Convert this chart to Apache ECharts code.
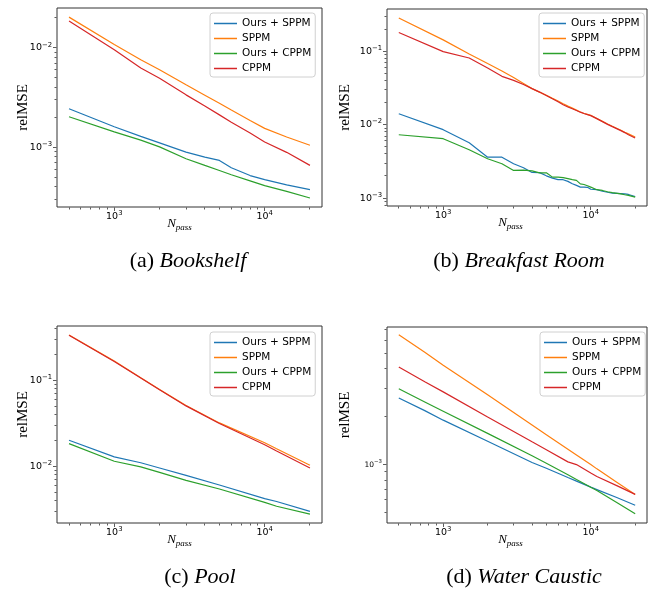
<!DOCTYPE html>
<html><head><meta charset="utf-8">
<script src="https://cdn.jsdelivr.net/npm/echarts@6/dist/echarts.min.js"></script>
<style>html,body{margin:0;padding:0;background:#fff}#c{width:648px;height:596px}</style>
</head><body><div id="c"></div>
<script>
// ---- data ----
const seriesNames = ['Ours + SPPM', 'SPPM', 'Ours + CPPM', 'CPPM'];

// (a) Bookshelf
const nPassA = [500, 1000, 1500, 2000, 3000, 4000, 5000, 6000, 8000, 10000, 14000, 20000];
const oursSppmA = [2.44e-3, 1.61e-3, 1.29e-3, 1.11e-3, 8.96e-4, 7.98e-4, 7.38e-4, 6.22e-4, 5.2e-4, 4.74e-4, 4.19e-4, 3.76e-4];
const sppmA = [2.04e-2, 1.08e-2, 7.6e-3, 6.03e-3, 4.25e-3, 3.34e-3, 2.77e-3, 2.37e-3, 1.86e-3, 1.55e-3, 1.27e-3, 1.05e-3];
const oursCppmA = [2.03e-3, 1.43e-3, 1.18e-3, 1.01e-3, 7.68e-4, 6.58e-4, 5.85e-4, 5.3e-4, 4.6e-4, 4.12e-4, 3.61e-4, 3.09e-4];
const cppmA = [1.86e-2, 9.6e-3, 6.27e-3, 4.96e-3, 3.37e-3, 2.6e-3, 2.12e-3, 1.79e-3, 1.39e-3, 1.13e-3, 8.9e-4, 6.58e-4];

// (b) Breakfast Room
const nPassB = [500, 1000, 1500, 2000, 2500, 3000, 3500, 4000, 4500, 5000, 5500, 6000, 6500, 7000, 7500, 8000, 8500, 9000, 9500, 10000, 11000, 12000, 13000, 14000, 16000, 17000, 18000, 20000];
const oursSppmB = [1.41e-2, 8.55e-3, 5.68e-3, 3.61e-3, 3.61e-3, 2.94e-3, 2.59e-3, 2.23e-3, 2.22e-3, 2.01e-3, 1.87e-3, 1.78e-3, 1.78e-3, 1.69e-3, 1.57e-3, 1.49e-3, 1.41e-3, 1.41e-3, 1.40e-3, 1.32e-3, 1.30e-3, 1.24e-3, 1.20e-3, 1.17e-3, 1.15e-3, 1.14e-3, 1.12e-3, 1.05e-3];
const sppmB = [0.284, 0.143, 0.092, 0.068, 0.054, 0.0438, 0.0365, 0.031, 0.0278, 0.0251, 0.0228, 0.021, 0.0193, 0.0179, 0.0168, 0.0158, 0.0149, 0.0142, 0.0138, 0.0134, 0.0121, 0.0111, 0.0102, 0.0095, 0.0084, 0.0079, 0.0075, 0.0068];
const oursCppmB = [7.29e-3, 6.44e-3, 4.56e-3, 3.43e-3, 2.94e-3, 2.38e-3, 2.41e-3, 2.35e-3, 2.21e-3, 2.21e-3, 1.93e-3, 1.93e-3, 1.90e-3, 1.84e-3, 1.78e-3, 1.74e-3, 1.56e-3, 1.53e-3, 1.47e-3, 1.41e-3, 1.30e-3, 1.27e-3, 1.22e-3, 1.19e-3, 1.14e-3, 1.11e-3, 1.09e-3, 1.03e-3];
const cppmB = [0.18, 0.099, 0.081, 0.059, 0.0456, 0.0402, 0.0352, 0.031, 0.0278, 0.025, 0.0225, 0.0205, 0.0187, 0.0174, 0.0165, 0.0156, 0.0148, 0.0142, 0.0137, 0.0133, 0.0121, 0.011, 0.0101, 0.0094, 0.0083, 0.0078, 0.0073, 0.0066];

// (c) Pool
const nPassC = [500, 1000, 1500, 2000, 3000, 5000, 10000, 12000, 20000];
const oursSppmC = [0.0201, 0.0129, 0.011, 9.57e-3, 7.85e-3, 6.07e-3, 4.2e-3, 3.9e-3, 2.99e-3];
const sppmC = [0.338, 0.168, 0.1076, 0.0785, 0.051, 0.032, 0.0188, 0.016, 0.01028];
const oursCppmC = [0.0184, 0.01146, 9.84e-3, 8.51e-3, 6.87e-3, 5.45e-3, 3.8e-3, 3.43e-3, 2.78e-3];
const cppmC = [0.336, 0.166, 0.1065, 0.078, 0.0505, 0.0315, 0.0178, 0.0151, 0.00957];

// (d) Water Caustic
const nPassD = [500, 750, 1000, 2000, 4000, 5000, 7000, 8000, 10000, 11000, 15000, 20000];
const oursSppmD = [2.62e-3, 2.18e-3, 1.9e-3, 1.4e-3, 1.03e-3, 9.48e-4, 8.3e-4, 7.88e-4, 7.22e-4, 6.97e-4, 6.21e-4, 5.56e-4];
const sppmD = [6.53e-3, 5.07e-3, 4.2e-3, 2.74e-3, 1.77e-3, 1.54e-3, 1.25e-3, 1.15e-3, 1.0e-3, 9.4e-4, 7.76e-4, 6.5e-4];
const oursCppmD = [2.99e-3, 2.47e-3, 2.16e-3, 1.57e-3, 1.135e-3, 1.02e-3, 8.63e-4, 8.06e-4, 7.2e-4, 6.87e-4, 5.78e-4, 4.91e-4];
const cppmD = [4.1e-3, 3.31e-3, 2.86e-3, 1.99e-3, 1.39e-3, 1.24e-3, 1.04e-3, 1.0e-3, 8.85e-4, 8.41e-4, 7.38e-4, 6.5e-4];

const captionLetters = ['(a) ', '(b) ', '(c) ', '(d) '];
const captionNames = ['Bookshelf', 'Breakfast Room', 'Pool', 'Water Caustic'];
const tickMultipliers = [1, 2, 3, 4, 5, 6, 7, 8, 9];
const tickDecades = [-5, -4, -3, -2, -1, 0, 1, 2, 3, 4, 5];

// ---- layout / style ----
const colors = ['#1f77b4', '#ff7f0e', '#2ca02c', '#d62728'];
const panels = [
  { x: nPassA, ys: [oursSppmA, sppmA, oursCppmA, cppmA], grid: { left: 57, top: 8, width: 265, height: 199 }, xr: [416, 24050], yr: [2.51e-4, 2.52e-2], yFont: 9.5, legend: [210, 13], cap: [188, 261], xNameShift: 20, yNameShift: 0, yGap: 26 },
  { x: nPassB, ys: [oursSppmB, sppmB, oursCppmB, cppmB], grid: { left: 387, top: 9, width: 260, height: 197 }, xr: [416, 24050], yr: [7.8e-4, 0.3767], yFont: 9.5, legend: [539, 13], cap: [519, 261], xNameShift: 13, yNameShift: 0, yGap: 34 },
  { x: nPassC, ys: [oursSppmC, sppmC, oursCppmC, cppmC], grid: { left: 57, top: 326, width: 265, height: 197 }, xr: [416, 24050], yr: [2.19e-3, 0.4295], yFont: 9.5, legend: [210, 332], cap: [200, 577], xNameShift: 20, yNameShift: 20, yGap: 26 },
  { x: nPassD, ys: [oursSppmD, sppmD, oursCppmD, cppmD], grid: { left: 387, top: 327, width: 260, height: 196 }, xr: [416, 24050], yr: [4.3e-4, 7.3e-3], yFont: 7.5, legend: [540, 332], cap: [524, 577], xNameShift: 13, yNameShift: 20, yGap: 34 }
];

function powLabel(v) {
  const l = Math.log10(v);
  const e = Math.round(l);
  if (Math.abs(l - e) > 1e-6) return '';
  return '{b|10}{s|' + (e < 0 ? '\u2212' : '') + Math.abs(e) + '}';
}
function tickValues(lo, hi) {
  const out = [];
  tickDecades.forEach(d => tickMultipliers.forEach(m => {
    const v = m * Math.pow(10, d);
    if (v > lo * 1.0001 && v < hi * 0.9999) out.push([v, m === 1 ? 1 : 0]);
  }));
  return out;
}
function labelRich(fs) {
  return {
    b: { fontFamily: 'DejaVu Sans', fontSize: fs, lineHeight: Math.round(fs * 1.35), color: '#000' },
    s: { fontFamily: 'DejaVu Sans', fontSize: fs * 0.72, lineHeight: Math.round(fs * 0.7), verticalAlign: 'top', color: '#000' }
  };
}

const grids = [], xAxes = [], yAxes = [], series = [], legends = [], graphics = [];
panels.forEach((p, i) => {
  grids.push(Object.assign({ show: true, borderColor: '#333', borderWidth: 1, backgroundColor: 'transparent', containLabel: false }, p.grid));
  xAxes.push({
    type: 'log', gridIndex: i, min: p.xr[0], max: p.xr[1], logBase: 10,
    axisLine: { show: false }, axisTick: { show: false }, splitLine: { show: false },
    axisLabel: { formatter: powLabel, rich: labelRich(9.5), margin: 3, showMinLabel: false, showMaxLabel: false },
    name: '{n|N}{p|pass}', nameLocation: 'middle', nameGap: 9, nameMoveOverlap: false,
    nameTextStyle: {
      padding: [0, p.xNameShift, 0, 0],
      rich: {
        n: { fontFamily: 'Liberation Serif', fontStyle: 'italic', fontSize: 13, lineHeight: 16, color: '#000' },
        p: { fontFamily: 'Liberation Serif', fontStyle: 'italic', fontSize: 9, lineHeight: 9, padding: [7, 0, 0, 0], color: '#000' }
      }
    }
  });
  yAxes.push({
    type: 'log', gridIndex: i, min: p.yr[0], max: p.yr[1], logBase: 10,
    axisLine: { show: false }, axisTick: { show: false }, splitLine: { show: false },
    axisLabel: { formatter: powLabel, rich: labelRich(p.yFont), margin: 5, showMinLabel: false, showMaxLabel: false },
    name: 'relMSE', nameLocation: 'middle', nameRotate: 90, nameGap: p.yGap, nameMoveOverlap: false,
    nameTextStyle: { fontFamily: 'Liberation Serif', fontSize: 15, color: '#000', padding: [0, 0, 0, p.yNameShift] }
  });
  p.ys.forEach((ys, k) => {
    series.push({
      type: 'line', name: seriesNames[k], xAxisIndex: i, yAxisIndex: i,
      data: p.x.map((v, j) => [v, ys[j]]),
      symbol: 'none', showSymbol: false, color: colors[k],
      lineStyle: { width: 1.2, color: colors[k] }, silent: true
    });
  });
  const tickData = [];
  tickValues(p.xr[0], p.xr[1]).forEach(t => tickData.push([t[0], p.yr[0], 0, t[1]]));
  tickValues(p.yr[0], p.yr[1]).forEach(t => tickData.push([p.xr[0], t[0], 1, t[1]]));
  series.push({
    type: 'custom', xAxisIndex: i, yAxisIndex: i, clip: false, silent: true,
    encode: { x: 0, y: 1 }, data: tickData,
    renderItem: (params, api) => {
      const c = api.coord([api.value(0), api.value(1)]);
      const len = api.value(3) ? 3.5 : 2;
      const isY = api.value(2) === 1;
      const x = Math.round(c[0] - 0.5) + 0.5, y = Math.round(c[1] - 0.5) + 0.5;
      return {
        type: 'line',
        shape: isY ? { x1: c[0] - 0.5, y1: y, x2: c[0] - 0.5 - len, y2: y } : { x1: x, y1: c[1] + 0.5, x2: x, y2: c[1] + 0.5 + len },
        style: { stroke: '#333', lineWidth: 0.8 }
      };
    }
  });
  legends.push({
    left: p.legend[0], top: p.legend[1], orient: 'vertical', data: seriesNames,
    icon: 'rect', itemWidth: 23, itemHeight: 1.5, itemGap: 4, padding: [5, 4, 3, 4],
    borderColor: '#d0d0d0', borderWidth: 1, borderRadius: 3, backgroundColor: 'rgba(255,255,255,0.8)',
    selectedMode: false,
    textStyle: { fontFamily: 'DejaVu Sans', fontSize: 10.5, lineHeight: 11, color: '#000' }
  });
  graphics.push({
    type: 'text', x: p.cap[0], y: p.cap[1], silent: true,
    style: {
      text: '{r|' + captionLetters[i] + '}{i|' + captionNames[i] + '}',
      align: 'center', verticalAlign: 'middle',
      rich: {
        r: { fontFamily: 'Liberation Serif', fontSize: 22, fill: '#000', color: '#000' },
        i: { fontFamily: 'Liberation Serif', fontStyle: 'italic', fontSize: 22, fill: '#000', color: '#000' }
      }
    }
  });
});

const chart = echarts.init(document.getElementById('c'), null, { renderer: 'canvas' });
chart.setOption({
  animation: false,
  backgroundColor: '#fff',
  grid: grids, xAxis: xAxes, yAxis: yAxes, series: series, legend: legends, graphic: graphics
});
</script></body></html>
